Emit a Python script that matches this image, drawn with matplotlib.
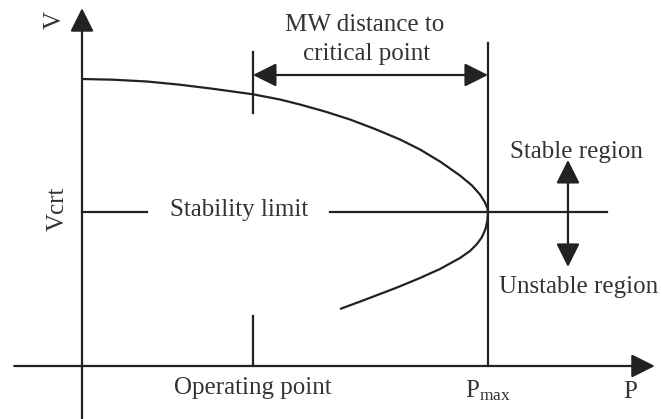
import numpy as np
import matplotlib
matplotlib.use("Agg")
import matplotlib.pyplot as plt

# ── Estilo: serifada, traço escuro ─────────────────────────
plt.rcParams.update({
    "font.family":       ["Liberation Serif", "DejaVu Serif"],
    "font.size":         18,
    "mathtext.fontset":  "custom",
    "mathtext.rm":       "Liberation Serif",
    "mathtext.it":       "Liberation Serif:italic",
    "figure.facecolor":  "white",
})

COR_LINHA = "#222222"
COR_TEXTO = "#333333"
LW        = 1.6

# ── Dados (P normalizado por Pmax, V normalizado por V0) ────
curva_p = [0.0000, 0.0764, 0.1601, 0.2414, 0.3227, 0.4212, 0.4877, 0.5369,
           0.5985, 0.6601, 0.7217, 0.7833, 0.8325, 0.8818, 0.9310, 0.9606,
           0.9803, 0.9926, 0.9988, 1.0000,
           0.9983, 0.9938, 0.9852, 0.9729, 0.9557, 0.9310, 0.8818, 0.8325,
           0.7759, 0.6921, 0.6355]
curva_v = [1.0000, 0.9976, 0.9913, 0.9801, 0.9659, 0.9467, 0.9286, 0.9111,
           0.8868, 0.8589, 0.8258, 0.7892, 0.7544, 0.7125, 0.6638, 0.6289,
           0.5976, 0.5697, 0.5488, 0.5366,
           0.5052, 0.4774, 0.4495, 0.4251, 0.4007, 0.3763, 0.3380, 0.3066,
           0.2735, 0.2282, 0.1986]

P_OPER  = 0.421     # ponto de operação
P_MAX   = 1.000     # ponto crítico
V_CRT   = 0.537     # tensão crítica

# limites dos eixos desenhados
P_EIXO  = (-0.167, 1.411)
V_EIXO  = (-0.184, 1.247)

# ══════════════════════════════════════════════════════════
#  Figura
# ══════════════════════════════════════════════════════════
fig = plt.figure(figsize=(6.62, 4.19), dpi=100)
ax = fig.add_axes([0, 0, 1, 1])
ax.set_xlim(-0.2020, 1.4286)
ax.set_ylim(-0.1847, 1.2753)
ax.axis("off")

def seta(x0, y0, x1, y1, estilo):
    ax.annotate("", xy=(x1, y1), xytext=(x0, y0),
                arrowprops=dict(arrowstyle=estilo + ",head_length=0.8,head_width=0.4",
                                mutation_scale=18, color=COR_LINHA, lw=LW,
                                shrinkA=0, shrinkB=0))

# Eixos P e V
seta(P_EIXO[0], 0, P_EIXO[1], 0, "-|>")
seta(0, V_EIXO[0], 0, V_EIXO[1], "-|>")

# Curva PV (nariz)
ax.plot(curva_p, curva_v, color=COR_LINHA, lw=LW,
        solid_capstyle="butt", solid_joinstyle="round")

# Linha vertical do Pmax
ax.plot([P_MAX, P_MAX], [0, 1.125], color=COR_LINHA, lw=LW)

# Marcas do ponto de operação
ax.plot([P_OPER, P_OPER], [0.882, 1.094], color=COR_LINHA, lw=LW)
ax.plot([P_OPER, P_OPER], [0, 0.174], color=COR_LINHA, lw=LW)

# Limite de estabilidade (interrompido pelo texto)
ax.plot([0, 0.160], [V_CRT, V_CRT], color=COR_LINHA, lw=LW)
ax.plot([0.611, 1.293], [V_CRT, V_CRT], color=COR_LINHA, lw=LW)

# Distância em MW até o ponto crítico
seta(P_OPER, 1.014, P_MAX, 1.014, "<|-|>")

# Regiões estável / instável
seta(1.197, 0.345, 1.197, 0.718, "<|-|>")

# ── Textos ────────────────────────────────────────────────
kw = dict(color=COR_TEXTO, ha="center", va="center")
ax.text(0.697, 1.188, "MW distance to", **kw)
ax.text(0.702, 1.087, "critical point", **kw)
ax.text(0.387, 0.545, "Stability limit", **kw)
ax.text(1.219, 0.746, "Stable region", **kw)
ax.text(1.222, 0.275, "Unstable region", **kw)
ax.text(P_OPER, -0.077, "Operating point", **kw)
ax.text(P_MAX, -0.085, r"$\mathrm{P}_{\mathrm{max}}$", **kw)
ax.text(1.350, -0.091, "P", **kw)
ax.text(-0.067, 1.206, "V", rotation=90, **kw)
ax.text(-0.059, 0.547, "Vcrt", rotation=90, **kw)

fig.savefig("out.png", dpi=100, facecolor="white")
plt.close(fig)
